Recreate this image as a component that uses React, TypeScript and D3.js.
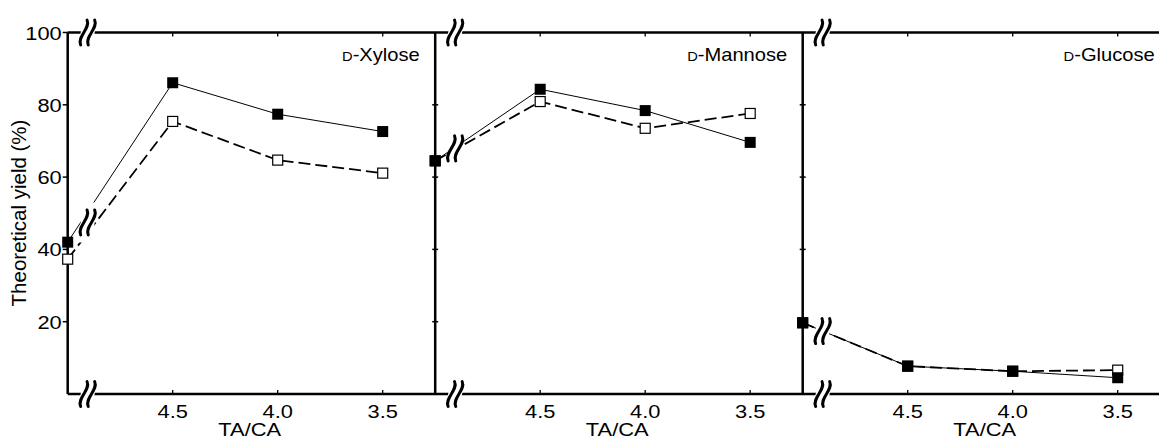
import React from "react";
import * as d3 from "d3";

const panelNames = ["Xylose", "Mannose", "Glucose"];
const tacaValues = [5.0, 4.5, 4.0, 3.5]; // first point sits on the broken axis
const xTicks = [4.5, 4.0, 3.5];
const yTicks = [20, 40, 60, 80, 100];
const breakTaca = 4.905;

const xyloseFilled = [42.0, 86.1, 77.4, 72.6];
const xyloseOpen = [37.3, 75.4, 64.7, 61.1];
const mannoseFilled = [64.5, 84.3, 78.4, 69.6];
const mannoseOpen = [64.5, 80.9, 73.5, 77.6];
const glucoseFilled = [19.7, 7.7, 6.3, 4.5];
const glucoseOpen = [19.7, 7.7, 6.3, 6.6];

const filledSeries = [xyloseFilled, mannoseFilled, glucoseFilled];
const openSeries = [xyloseOpen, mannoseOpen, glucoseOpen];

const W = 1159;
const H = 438;
const firstLeft = 67.7;
const panelW = 367.5;
const yTop = 32.5;
const yBottom = 394;
const FONT = "'Liberation Sans', Arial, Helvetica, sans-serif";
const SX = 1.15;

const y = d3.scaleLinear().domain([0, 100]).range([yBottom, yTop]);

function BreakMark({ cx, cy, tall }: { cx: number; cy: number; tall: number }) {
  const strokes = [-3.8, 3.8].map((dx) => {
    const x = cx + dx;
    return `M${x + 3.2},${cy - 12.5} C${x + 7},${cy - 4} ${x - 7},${cy + 4} ${x - 3.2},${cy + 12.5}`;
  });
  const poly = [
    [cx - 5, cy - tall],
    [cx + 9, cy - tall],
    [cx + 5, cy + tall],
    [cx - 9, cy + tall],
  ]
    .map((p) => p.join(","))
    .join(" ");
  return (
    <g>
      <polygon points={poly} fill="#fff" />
      {strokes.map((d, i) => (
        <path key={i} d={d} fill="none" stroke="#000" strokeWidth={3} strokeLinecap="round" />
      ))}
    </g>
  );
}

function Panel({ idx }: { idx: number }) {
  const left = firstLeft + idx * panelW;
  const x = d3.scaleLinear().domain([5.0, 3.25]).range([left, left + panelW]);
  const filled = filledSeries[idx];
  const open = openSeries[idx];
  const seriesLine = d3
    .line<number>()
    .x((_, i) => x(tacaValues[i]))
    .y((d) => y(d));
  const bx = x(breakTaca);
  const frac = (breakTaca - tacaValues[0]) / (tacaValues[1] - tacaValues[0]);
  const yf = y(filled[0] + frac * (filled[1] - filled[0]));
  const yo = y(open[0] + frac * (open[1] - open[0]));
  const by = (yf + yo) / 2;
  const ms = 11;
  return (
    <g>
      <line x1={left} x2={left} y1={yTop} y2={yBottom} stroke="#000" strokeWidth={2.5} />
      {yTicks.map((t) =>
        idx === 0 ? (
          <line key={t} x1={left - 5} x2={left} y1={y(t)} y2={y(t)} stroke="#000" strokeWidth={1.5} />
        ) : t < 100 ? (
          <line key={t} x1={left - 3} x2={left + 3} y1={y(t)} y2={y(t)} stroke="#000" strokeWidth={1.5} />
        ) : null
      )}
      {idx === 0 &&
        yTicks.map((t) => (
          <text
            key={"l" + t}
            transform={`translate(${left - 6},${y(t) + 7}) scale(${SX},1)`}
            textAnchor="end"
            fontFamily={FONT}
            fontSize={19}
          >
            {t}
          </text>
        ))}
      {xTicks.map((t) => (
        <g key={t}>
          <line x1={x(t)} x2={x(t)} y1={yTop} y2={yTop + 4} stroke="#000" strokeWidth={1.3} />
          <line x1={x(t)} x2={x(t)} y1={yBottom} y2={yBottom - 4} stroke="#000" strokeWidth={1.3} />
          <text
            transform={`translate(${x(t)},418) scale(${SX},1)`}
            textAnchor="middle"
            fontFamily={FONT}
            fontSize={19}
          >
            {t.toFixed(1)}
          </text>
        </g>
      ))}
      <text
        transform={`translate(${left + 182},435.5) scale(${SX},1)`}
        textAnchor="middle"
        fontFamily={FONT}
        fontSize={19}
      >
        TA/CA
      </text>
      <text
        transform={`translate(${left + 352},60.5) scale(${SX},1)`}
        textAnchor="end"
        fontFamily={FONT}
        fontSize={17.5}
      >
        <tspan fontSize={12.8}>D</tspan>-{panelNames[idx]}
      </text>
      <path d={seriesLine(open) || ""} fill="none" stroke="#000" strokeWidth={1.8} strokeDasharray="12,5" />
      <path d={seriesLine(filled) || ""} fill="none" stroke="#000" strokeWidth={1} />
      <BreakMark cx={bx} cy={by} tall={20} />
      <BreakMark cx={bx} cy={yTop} tall={9} />
      <BreakMark cx={bx} cy={yBottom} tall={9} />
      {open.map((v, i) => (
        <rect
          key={"o" + i}
          x={x(tacaValues[i]) - (ms - 1) / 2}
          y={y(v) - (ms - 1) / 2}
          width={ms - 1}
          height={ms - 1}
          fill="#fff"
          stroke="#000"
          strokeWidth={1.2}
        />
      ))}
      {filled.map((v, i) => (
        <rect key={"f" + i} x={x(tacaValues[i]) - ms / 2} y={y(v) - ms / 2} width={ms} height={ms} fill="#000" />
      ))}
    </g>
  );
}

export default function App() {
  return (
    <svg width={W} height={H} style={{ position: "absolute", left: 0, top: 0, background: "#fff" }}>
      <rect x={0} y={0} width={W} height={H} fill="#fff" />
      <line x1={firstLeft} x2={W} y1={yTop} y2={yTop} stroke="#000" strokeWidth={2.5} />
      <line x1={firstLeft} x2={W} y1={yBottom} y2={yBottom} stroke="#000" strokeWidth={2.5} />
      {panelNames.map((_, i) => (
        <Panel key={i} idx={i} />
      ))}
      <text transform={`translate(26,213) rotate(-90)`} textAnchor="middle" fontFamily={FONT} fontSize={20.5}>
        Theoretical yield (%)
      </text>
    </svg>
  );
}
